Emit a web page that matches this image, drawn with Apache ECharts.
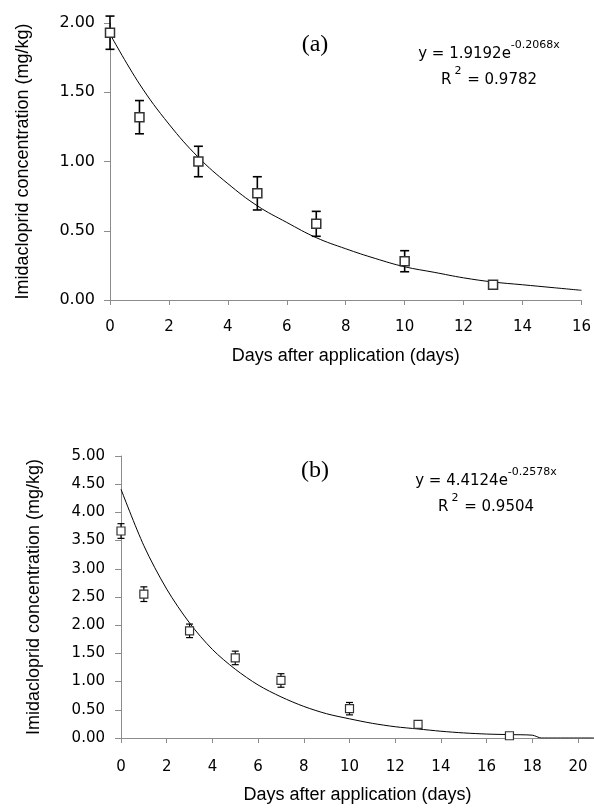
<!DOCTYPE html>
<html>
<head>
<meta charset="utf-8">
<script src="https://cdn.jsdelivr.net/npm/echarts@6/dist/echarts.min.js"></script>
<style>
  html, body { margin: 0; padding: 0; background: #fff; }
  #chart { width: 594px; height: 809px; }
</style>
</head>
<body>
<div id="chart"></div>
<script>
// panel (a): measured residues
var daysA = [0, 1, 3, 5, 7, 10, 13];
var meanA = [1.93, 1.32, 1.00, 0.77, 0.55, 0.28, 0.11];
var errA = [0.12, 0.12, 0.11, 0.12, 0.09, 0.076, 0.02];
// panel (a): fitted curve
var fitDaysA = [0, 1, 2, 3, 4, 5, 6, 7, 8, 9, 10, 11, 12, 13, 14, 15, 16];
var fitA = [1.92, 1.56, 1.27, 1.03, 0.84, 0.68, 0.56, 0.45, 0.37, 0.30, 0.24, 0.20, 0.16, 0.13, 0.11, 0.09, 0.07];

// panel (b)
var daysB = [0, 1, 3, 5, 7, 10, 13, 17];
var meanB = [3.67, 2.55, 1.90, 1.42, 1.02, 0.52, 0.24, 0.04];
var errB = [0.13, 0.13, 0.12, 0.12, 0.12, 0.11, 0.02, 0.01];
var fitDaysB = [0, 1, 2, 3, 4, 5, 6, 7, 8, 9, 10, 11, 12, 13, 14, 15, 16, 17, 18, 18.4, 20.7];
var fitB = [4.41, 3.41, 2.64, 2.04, 1.57, 1.22, 0.94, 0.73, 0.56, 0.43, 0.34, 0.26, 0.20, 0.16, 0.12, 0.09, 0.07, 0.06, 0.05, 0, 0];

var xTicksB = [0, 2, 4, 6, 8, 10, 12, 14, 16, 18, 20];

var yTitle = 'Imidacloprid concentration (mg/kg)';
var xTitle = 'Days after application (days)';

function pairs(xs, ys) {
  return xs.map(function (x, i) { return [x, ys[i]]; });
}
function triples(xs, ys, es) {
  return xs.map(function (x, i) { return [x, ys[i], es[i]]; });
}

var axisGray = '#8c8c8c';

function errorBars(gridIdx, data, cap, width) {
  return {
    type: 'custom',
    xAxisIndex: gridIdx,
    yAxisIndex: gridIdx,
    data: data,
    encode: { x: 0, y: 1 },
    z: 2,
    renderItem: function (params, api) {
      var x = api.value(0), y = api.value(1), e = api.value(2);
      var hi = api.coord([x, y + e]);
      var lo = api.coord([x, y - e]);
      var st = { stroke: '#000', lineWidth: width };
      return {
        type: 'group',
        children: [
          { type: 'line', shape: { x1: hi[0], y1: hi[1], x2: lo[0], y2: lo[1] }, style: st },
          { type: 'line', shape: { x1: hi[0] - cap, y1: hi[1], x2: hi[0] + cap, y2: hi[1] }, style: st },
          { type: 'line', shape: { x1: lo[0] - cap, y1: lo[1], x2: lo[0] + cap, y2: lo[1] }, style: st }
        ]
      };
    }
  };
}

function eqText(x, y, a, b, r2) {
  return [
    {
      type: 'text', x: x, y: y,
      style: {
        text: '{m|y = ' + a + 'e}{s|' + b + 'x}',
        align: 'center', verticalAlign: 'middle',
        rich: {
          m: { fontSize: 15, fontFamily: 'DejaVu Sans', lineHeight: 28, fill: '#000' },
          s: { fontSize: 11, fontFamily: 'DejaVu Sans', lineHeight: 12, verticalAlign: 'top', fill: '#000' }
        }
      }
    },
    {
      type: 'text', x: x, y: y + 26,
      style: {
        text: '{m|R}{s|2}{m| = ' + r2 + '}',
        align: 'center', verticalAlign: 'middle',
        rich: {
          m: { fontSize: 15, fontFamily: 'DejaVu Sans', lineHeight: 28, fill: '#000' },
          s: { fontSize: 11, fontFamily: 'DejaVu Sans', lineHeight: 12, verticalAlign: 'top', padding: [0, 1, 0, 3], fill: '#000' }
        }
      }
    }
  ];
}

function panelLabel(x, y, t) {
  return {
    type: 'text', x: x, y: y,
    style: { text: t, align: 'center', verticalAlign: 'middle', font: '24px "Liberation Serif"', fill: '#000' }
  };
}

var chart = echarts.init(document.getElementById('chart'));

chart.setOption({
  animation: false,
  backgroundColor: '#fff',
  grid: [
    { left: 110, right: 11, top: 23, bottom: 509 },
    { left: 121, right: 0, top: 456, bottom: 71 }
  ],
  xAxis: [
    {
      gridIndex: 0, type: 'value', min: 0, max: 16, interval: 2,
      name: xTitle, nameLocation: 'middle', nameGap: 47,
      nameTextStyle: { fontFamily: 'Liberation Sans', fontSize: 18, color: '#000' },
      axisLine: { lineStyle: { color: axisGray, width: 1 } },
      axisTick: { show: true, length: 5, lineStyle: { color: axisGray } },
      axisLabel: { fontFamily: 'DejaVu Sans', fontSize: 15, color: '#000', margin: 20 },
      splitLine: { show: false }
    },
    {
      gridIndex: 1, type: 'value', min: 0, max: 20.7, interval: 2,
      name: xTitle, nameLocation: 'middle', nameGap: 48,
      nameTextStyle: { fontFamily: 'Liberation Sans', fontSize: 18, color: '#000' },
      axisLine: { lineStyle: { color: axisGray, width: 1 } },
      axisTick: { show: true, length: 5, customValues: xTicksB, lineStyle: { color: axisGray } },
      axisLabel: { fontFamily: 'DejaVu Sans', fontSize: 15, color: '#000', margin: 22, customValues: xTicksB },
      splitLine: { show: false }
    }
  ],
  yAxis: [
    {
      gridIndex: 0, type: 'value', min: 0, max: 2, interval: 0.5,
      name: yTitle, nameLocation: 'middle', nameGap: 78,
      nameTextStyle: { fontFamily: 'Liberation Sans', fontSize: 18, color: '#000' },
      axisLine: { show: true, lineStyle: { color: axisGray, width: 1 } },
      axisTick: { show: true, length: 6, lineStyle: { color: axisGray } },
      axisLabel: { fontFamily: 'DejaVu Sans', fontSize: 16, color: '#000', margin: 15,
        formatter: function (v) { return v.toFixed(2); } },
      splitLine: { show: false }
    },
    {
      gridIndex: 1, type: 'value', min: 0, max: 5, interval: 0.5,
      name: yTitle, nameLocation: 'middle', nameGap: 78,
      nameTextStyle: { fontFamily: 'Liberation Sans', fontSize: 18, color: '#000' },
      axisLine: { show: true, lineStyle: { color: axisGray, width: 1 } },
      axisTick: { show: true, length: 6, lineStyle: { color: axisGray } },
      axisLabel: { fontFamily: 'DejaVu Sans', fontSize: 15, color: '#000', margin: 16,
        formatter: function (v) { return v.toFixed(2); } },
      splitLine: { show: false }
    }
  ],
  series: [
    {
      type: 'line', xAxisIndex: 0, yAxisIndex: 0, data: pairs(fitDaysA, fitA),
      smooth: 0.4, showSymbol: false, symbol: 'none', z: 1,
      lineStyle: { color: '#000', width: 1 }
    },
    errorBars(0, triples(daysA, meanA, errA), 4.5, 1.6),
    {
      type: 'scatter', xAxisIndex: 0, yAxisIndex: 0, data: pairs(daysA, meanA),
      symbol: 'rect', symbolSize: 9, z: 3,
      itemStyle: { color: '#fff', borderColor: '#333', borderWidth: 1.5, opacity: 1 }
    },
    {
      type: 'line', xAxisIndex: 1, yAxisIndex: 1, data: pairs(fitDaysB, fitB),
      smooth: 0.3, showSymbol: false, symbol: 'none', z: 1,
      lineStyle: { color: '#000', width: 1 }
    },
    errorBars(1, triples(daysB, meanB, errB), 3.5, 1.2),
    {
      type: 'scatter', xAxisIndex: 1, yAxisIndex: 1, data: pairs(daysB, meanB),
      symbol: 'rect', symbolSize: 8, z: 3,
      itemStyle: { color: '#fff', borderColor: '#333', borderWidth: 1.2, opacity: 1 }
    }
  ],
  graphic: [
    panelLabel(315, 45, '(a)'),
    panelLabel(315, 471, '(b)')
  ].concat(eqText(489, 54, '1.9192', '-0.2068', '0.9782'))
   .concat(eqText(486, 481, '4.4124', '-0.2578', '0.9504'))
});
</script>
</body>
</html>
